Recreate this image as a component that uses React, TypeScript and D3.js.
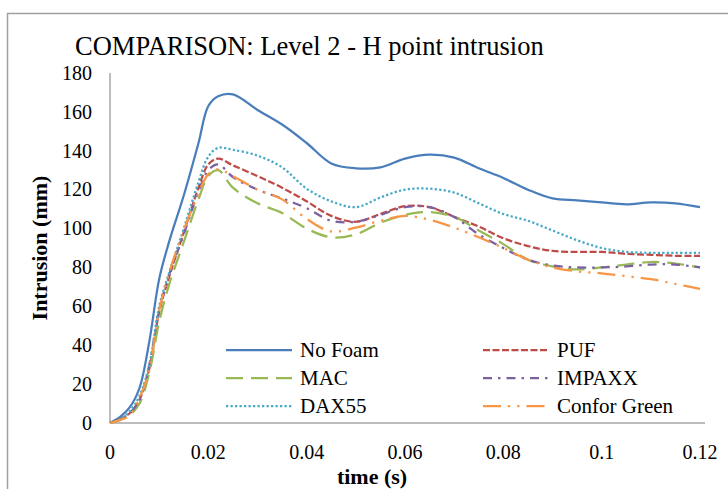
import React from "react";
import * as d3 from "d3";

const times = [0, 0.002, 0.004, 0.006, 0.008, 0.01, 0.012, 0.015, 0.018, 0.02, 0.022, 0.025, 0.03, 0.035, 0.04, 0.045, 0.05, 0.055, 0.06, 0.065, 0.07, 0.075, 0.08, 0.085, 0.09, 0.095, 0.1, 0.105, 0.11, 0.115, 0.12];

const noFoam = [0, 3, 8, 18, 42, 74, 93, 117, 144, 163, 168, 169, 161, 153.5, 144, 133.5, 131, 131.5, 136, 138, 136.5, 131, 126, 120, 115.5, 114.5, 113.5, 112.5, 113.5, 113, 111];
const puf = [0, 2, 5, 12, 28, 57, 75, 98, 121, 133, 136, 132.5, 127, 121, 114, 106.5, 103.5, 107.5, 111.5, 111, 106, 101, 95, 91, 88.5, 88, 88, 87, 86.5, 86, 86];
const mac = [0, 1.5, 4, 10, 26, 52, 71, 93, 115, 127, 130, 121, 113, 108, 100, 95.5, 97, 103, 107, 108.5, 106, 99, 92, 84, 80.5, 79, 80, 81.5, 82.8, 82, 80];
const impaxx = [0, 2, 5, 12, 30, 58, 76, 97, 119, 130, 133, 126.5, 120, 115.5, 110.5, 104, 103.5, 107, 111, 111, 106, 97, 90, 84, 81, 80, 80, 80.5, 81.5, 81.5, 80];
const dax55 = [0, 2, 6, 14, 30, 60, 77, 100, 124, 137, 141.5, 140.5, 137.5, 131.5, 120.5, 114, 111, 116, 120, 120.5, 118.5, 113, 107.5, 104, 99, 94, 90, 88, 87.5, 87.5, 87.5];
const conforGreen = [0, 1.5, 4, 13, 27, 58, 77, 99, 118, 128, 130.5, 127, 120, 115, 105, 98.5, 100.5, 104, 106.5, 104.5, 100.5, 95.5, 90, 84, 80, 78, 77, 75.5, 74, 71.5, 69];

const seriesNames = ["No Foam", "PUF", "MAC", "IMPAXX", "DAX55", "Confor Green"];
const seriesValues = [noFoam, puf, mac, impaxx, dax55, conforGreen];
const seriesColors = ["#4A7EBB", "#BE4B48", "#98B954", "#7D60A0", "#46AAC5", "#F79646"];
const seriesDash = ["", "7,2.5", "17,8", "9,6,2.5,6", "2.25,2.25", "18,7,2.25,7,2.25,7"];

const xTicks = [0, 0.02, 0.04, 0.06, 0.08, 0.1, 0.12];
const yTicks = [0, 20, 40, 60, 80, 100, 120, 140, 160, 180];

const FONT = "'Liberation Serif', 'Times New Roman', serif";

export default function App() {
  const W = 728, H = 489;
  const x = d3.scaleLinear().domain([0, 0.12]).range([110, 700]);
  const y = d3.scaleLinear().domain([0, 180]).range([423, 73]);
  const line = d3
    .line<number>()
    .x((_, i) => x(times[i]))
    .y((d) => y(d))
    .curve(d3.curveCatmullRom.alpha(0.5));

  const legendRows = [350, 378, 406];
  const legendCols = [226, 483];

  return (
    <svg width={W} height={H} style={{ position: "absolute", left: 0, top: 0, background: "#fff" }}>
      <rect x={0} y={0} width={W} height={H} fill="#fff" />
      <path d={`M7.5,${H} V13.5 H${W}`} fill="none" stroke="#a0a0a0" strokeWidth={1.5} />
      <text x={75} y={55} fontFamily={FONT} fontSize={26.5} fill="#000">
        COMPARISON: Level 2 - H point intrusion
      </text>
      <line x1={110} x2={110} y1={73} y2={423} stroke="#a6a6a6" strokeWidth={1.5} />
      <line x1={110} x2={705} y1={423} y2={423} stroke="#a6a6a6" strokeWidth={1.5} />
      {yTicks.map((t) => (
        <text key={t} x={92} y={y(t)} dy="0.34em" textAnchor="end" fontFamily={FONT} fontSize={20} fill="#000">
          {t}
        </text>
      ))}
      {xTicks.map((t) => (
        <text key={t} x={x(t)} y={458.5} textAnchor="middle" fontFamily={FONT} fontSize={20} fill="#000">
          {d3.format("~g")(t)}
        </text>
      ))}
      <text x={372} y={484} textAnchor="middle" fontFamily={FONT} fontSize={22} fontWeight="bold" fill="#000">
        time (s)
      </text>
      <text
        transform={`translate(47,248) rotate(-90)`}
        textAnchor="middle"
        fontFamily={FONT}
        fontSize={22}
        fontWeight="bold"
        fill="#000"
      >
        Intrusion (mm)
      </text>
      {seriesValues.map((vals, i) => (
        <path
          key={seriesNames[i]}
          d={line(vals) || ""}
          fill="none"
          stroke={seriesColors[i]}
          strokeWidth={2.25}
          strokeDasharray={seriesDash[i] || undefined}
        />
      ))}
      {seriesNames.map((name, i) => {
        const col = i % 2;
        const row = Math.floor(i / 2);
        const lx = legendCols[col];
        const ly = legendRows[row];
        return (
          <g key={name}>
            <line x1={lx} x2={lx + 66} y1={ly} y2={ly} stroke={seriesColors[i]} strokeWidth={2.25} strokeDasharray={seriesDash[i] || undefined} />
            <text x={lx + 74} y={ly} dy="0.34em" fontFamily={FONT} fontSize={21} fill="#000">
              {name}
            </text>
          </g>
        );
      })}
    </svg>
  );
}
